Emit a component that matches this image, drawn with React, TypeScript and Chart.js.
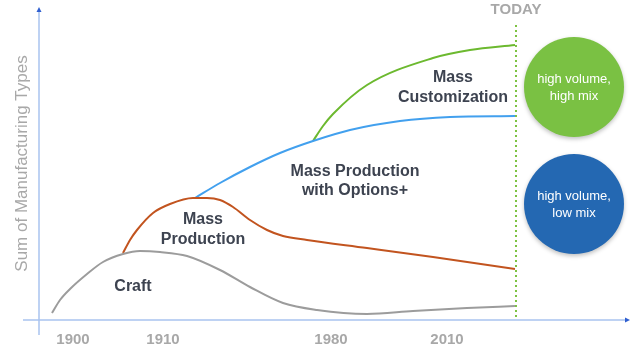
import React, { useEffect, useRef } from "react";
import { Chart, registerables } from "chart.js";

Chart.register(...registerables);

// Schematic x positions (time index) and heights (sum of manufacturing types)
const craftX = [13, 21, 31, 48, 64, 84, 101, 121, 148, 181, 211, 244, 278, 328, 374, 428, 476];
const craftY = [7, 20, 31, 46, 58, 66, 69, 68, 64, 50, 33, 17, 10, 6, 9, 12, 14];

const massProdX = [84, 91, 98, 114, 131, 154, 168, 181, 194, 211, 228, 244, 268, 328, 394, 476];
const massProdY = [67, 80, 90, 107, 116, 122, 122, 120, 113, 100, 90, 84, 80, 72, 63, 51];

const optionsX = [156, 181, 211, 241, 274, 311, 361, 411, 476];
const optionsY = [122, 137, 153, 167, 179, 190, 199, 203, 204];

const customX = [274, 284, 294, 328, 394, 431, 476];
const customY = [179, 194, 206, 235, 262, 270, 275];

const tickValues = [34, 124, 292, 408];
const tickLabels = ["1900", "1910", "1980", "2010"];

const todayX = 477;
const yTitle = "Sum of Manufacturing Types";

const FONT = "'Liberation Sans', Arial, Helvetica, sans-serif";

const toPts = (xs: number[], ys: number[]) => xs.map((x, i) => ({ x, y: ys[i] }));

const annotPlugin = {
  id: "annot",
  beforeDatasetsDraw(chart: any) {
    const { ctx, chartArea, scales } = chart;
    const xs = scales.x;
    const ys = scales.y;
    const x0 = xs.getPixelForValue(0);
    const y0 = ys.getPixelForValue(0);
    ctx.save();
    // axes
    ctx.strokeStyle = "#a9c4f0";
    ctx.lineWidth = 1.5;
    ctx.beginPath();
    ctx.moveTo(x0 - 16, y0);
    ctx.lineTo(chartArea.right - 2, y0);
    ctx.moveTo(x0, y0 + 15);
    ctx.lineTo(x0, chartArea.top + 2);
    ctx.stroke();
    ctx.fillStyle = "#2f5fd0";
    ctx.beginPath();
    ctx.moveTo(chartArea.right, y0);
    ctx.lineTo(chartArea.right - 5, y0 - 2.5);
    ctx.lineTo(chartArea.right - 5, y0 + 2.5);
    ctx.closePath();
    ctx.fill();
    ctx.beginPath();
    ctx.moveTo(x0, chartArea.top);
    ctx.lineTo(x0 - 2.5, chartArea.top + 5);
    ctx.lineTo(x0 + 2.5, chartArea.top + 5);
    ctx.closePath();
    ctx.fill();

    // today line
    const tx = xs.getPixelForValue(todayX);
    ctx.strokeStyle = "#7dc242";
    ctx.lineWidth = 2;
    ctx.setLineDash([2, 3]);
    ctx.beginPath();
    ctx.moveTo(tx, ys.getPixelForValue(295));
    ctx.lineTo(tx, y0);
    ctx.stroke();
    ctx.setLineDash([]);
    ctx.fillStyle = "#a8a8a8";
    ctx.font = `bold 15px ${FONT}`;
    ctx.textAlign = "center";
    ctx.textBaseline = "middle";
    ctx.fillText("TODAY", tx, 10);
    ctx.restore();
  },
  afterDatasetsDraw(chart: any) {
    const { ctx, scales } = chart;
    const xs = scales.x;
    const ys = scales.y;
    ctx.save();
    ctx.textAlign = "center";
    ctx.textBaseline = "middle";
    // labels
    ctx.fillStyle = "#3d4350";
    ctx.font = `bold 16px ${FONT}`;
    const labels: [string, number, number][] = [
      ["Craft", 94, 33],
      ["Mass", 164, 100],
      ["Production", 164, 80],
      ["Mass Production", 316, 148],
      ["with Options+", 316, 129],
      ["Mass", 414, 242],
      ["Customization", 414, 222],
    ];
    labels.forEach(([t, x, y]) => ctx.fillText(t, xs.getPixelForValue(x), ys.getPixelForValue(y)));

    // circles
    const circles: [string, string, string, number, number][] = [
      ["#7ac143", "high volume,", "high mix", 535, 233],
      ["#2468b2", "high volume,", "low mix", 535, 116],
    ];
    circles.forEach(([col, l1, l2, x, y]) => {
      const cx = xs.getPixelForValue(x);
      const cy = ys.getPixelForValue(y);
      ctx.save();
      ctx.shadowColor = "rgba(0,0,0,0.25)";
      ctx.shadowBlur = 4;
      ctx.shadowOffsetY = 2;
      ctx.fillStyle = col;
      ctx.beginPath();
      ctx.arc(cx, cy, 50, 0, Math.PI * 2);
      ctx.fill();
      ctx.restore();
      ctx.fillStyle = "#ffffff";
      ctx.font = `13px ${FONT}`;
      ctx.fillText(l1, cx, cy - 8);
      ctx.fillText(l2, cx, cy + 9);
    });
    ctx.restore();
  },
};

export default function App() {
  const ref = useRef<HTMLCanvasElement | null>(null);
  useEffect(() => {
    if (!ref.current) return;
    const line = (data: any, color: string) => ({
      data,
      borderColor: color,
      borderWidth: 2,
      pointRadius: 0,
      cubicInterpolationMode: "monotone",
      fill: false,
    });
    const chart = new Chart(ref.current, {
      type: "line",
      data: {
        datasets: [
          line(toPts(craftX, craftY), "#9c9c9c"),
          line(toPts(massProdX, massProdY), "#c2541f"),
          line(toPts(optionsX, optionsY), "#42a0ee"),
          line(toPts(customX, customY), "#6cb92f"),
        ] as any,
      },
      options: {
        animation: false,
        responsive: false,
        maintainAspectRatio: false,
        layout: { padding: { top: 7, right: 10, left: 0, bottom: 0 } },
        plugins: { legend: { display: false }, tooltip: { enabled: false } },
        scales: {
          x: {
            type: "linear",
            min: 0,
            max: 591,
            grid: { display: false, drawTicks: false },
            border: { display: false },
            afterFit: (s: any) => { s.height = 37; },
            afterBuildTicks: (s: any) => { s.ticks = tickValues.map((v) => ({ value: v })); },
            ticks: {
              autoSkip: false,
              maxRotation: 0,
              padding: 11,
              color: "#a8a8a8",
              font: { family: FONT, size: 15, weight: "bold" },
              callback: (v: any) => {
                const i = tickValues.indexOf(Number(v));
                return i >= 0 ? tickLabels[i] : "";
              },
            },
          },
          y: {
            type: "linear",
            min: 0,
            max: 313,
            grid: { display: false, drawTicks: false },
            border: { display: false },
            ticks: { display: false },
            afterFit: (s: any) => { s.width = 39; },
            title: {
              display: true,
              text: yTitle,
              color: "#a8a8a8",
              font: { family: FONT, size: 17, weight: "normal" },
              padding: { top: 12, bottom: 0 },
            },
          },
        },
      },
      plugins: [annotPlugin],
    } as any);
    return () => chart.destroy();
  }, []);
  return (
    <div style={{ position: "fixed", left: 0, top: 0, width: 640, height: 357, background: "#fff" }}>
      <canvas ref={ref} width={640} height={357} style={{ width: 640, height: 357 }} />
    </div>
  );
}
